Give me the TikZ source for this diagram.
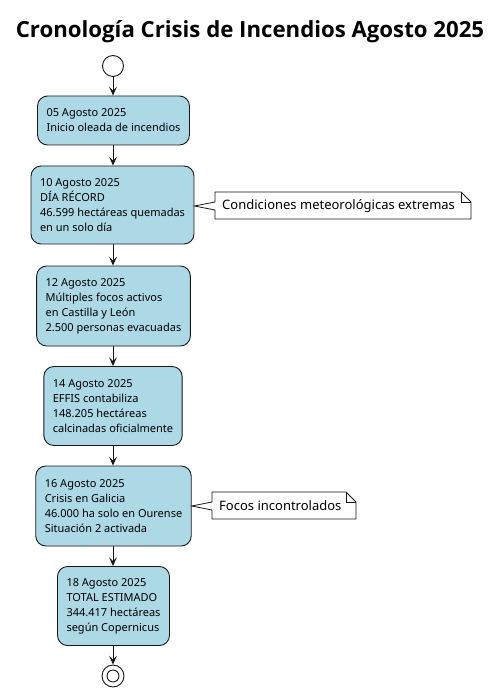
\documentclass[tikz,border=0pt]{standalone}
\usepackage{fontspec}
\setmainfont{Noto Sans}
\newfontfamily\titlefont{Open Sans}
\usetikzlibrary{arrows.meta}
\definecolor{boxfill}{HTML}{ADD8E6}
\definecolor{edge}{HTML}{181818}
\tikzset{
  actbox/.style={draw=edge, fill=boxfill, line width=0.9pt, rounded corners=10pt,
    align=left, inner xsep=9pt, inner ysep=0pt, anchor=center,
    font=\fontsize{11}{15}\selectfont},
  flow/.style={draw=edge, line width=0.9pt, -{Stealth[length=9pt,width=8pt,inset=4pt]}},
  notebox/.style={draw=edge, fill=white, line width=0.8pt},
  notetext/.style={font=\fontsize{13}{16}\selectfont, anchor=west, inner sep=0pt}
}
\begin{document}
\begin{tikzpicture}[x=1pt,y=-1pt]
\useasboundingbox (0,0) rectangle (500,692);
\node[font=\titlefont\bfseries\fontsize{22.2}{26}\selectfont, inner sep=0pt] (title) at (250,32) {Cronología Crisis de Incendios Agosto 2025};
\node[draw=edge, fill=white, circle, minimum size=21pt, inner sep=0pt, line width=0.9pt] (start) at (113,66) {};
\node[actbox, minimum height=49pt] (b1) at (113.5,120.5) {05 Agosto 2025\\Inicio oleada de incendios};
\node[actbox, minimum height=78pt] (b2) at (112.5,205) {10 Agosto 2025\\DÍA RÉCORD\\46.599 hectáreas quemadas\\en un solo día};
\node[actbox, minimum height=80pt] (b3) at (113.5,306) {12 Agosto 2025\\Múltiples focos activos\\en Castilla y León\\2.500 personas evacuadas};
\node[actbox, minimum height=79pt] (b4) at (113,406) {14 Agosto 2025\\EFFIS contabiliza\\148.205 hectáreas\\calcinadas oficialmente};
\node[actbox, minimum height=80pt] (b5) at (113.5,506) {16 Agosto 2025\\Crisis en Galicia\\46.000 ha solo en Ourense\\Situación 2 activada};
\node[actbox, minimum height=79pt] (b6) at (113.5,606) {18 Agosto 2025\\TOTAL ESTIMADO\\344.417 hectáreas\\según Copernicus};
\node[draw=edge, fill=white, circle, minimum size=22pt, inner sep=0pt, line width=0.9pt] (end) at (113,676) {};
\node[draw=edge, fill=white, circle, minimum size=12pt, inner sep=0pt, line width=0.9pt] (endin) at (113,676) {};
\draw[flow] (start) -- (b1.north -| start);
\draw[flow] (b1.south -| start) -- (b2.north -| start);
\draw[flow] (b2.south -| start) -- (b3.north -| start);
\draw[flow] (b3.south -| start) -- (b4.north -| start);
\draw[flow] (b4.south -| start) -- (b5.north -| start);
\draw[flow] (b5.south -| start) -- (b6.north -| start);
\draw[flow] (b6.south -| start) -- (end);
% note 1
\coordinate (p1) at (b2.east |- 0,206);
\path[notebox] (215,192) -- (461,192) -- (471,202) -- (471,219) -- (215,219) -- (215,210) -- (p1) -- (215,202) -- cycle;
\draw[edge, line width=0.8pt] (461,192) -- (461,202) -- (471,202);
\node[notetext] (n1) at (222,206) {Condiciones meteorológicas extremas};
% note 2
\coordinate (p2) at (b5.east |- 0,506);
\path[notebox] (212,492) -- (346,492) -- (356,502) -- (356,519) -- (212,519) -- (212,510) -- (p2) -- (212,502) -- cycle;
\draw[edge, line width=0.8pt] (346,492) -- (346,502) -- (356,502);
\node[notetext] (n2) at (219,506) {Focos incontrolados};
\end{tikzpicture}
\end{document}
